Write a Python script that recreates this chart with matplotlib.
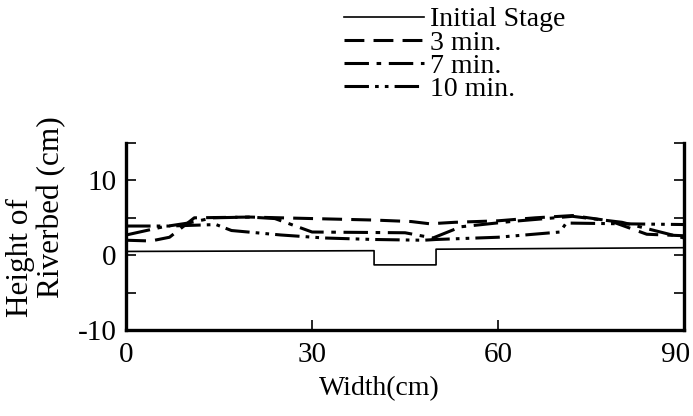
import numpy as np
import matplotlib.pyplot as plt
import matplotlib.transforms as mtransforms
from matplotlib.ticker import MultipleLocator

plt.rcParams['font.family'] = ['Liberation Serif', 'DejaVu Serif']
plt.rcParams['axes.unicode_minus'] = False

# bed profiles across the channel width (cm)
initial_x = [0, 40, 40, 50, 50, 90]
initial_h = [0.5, 0.6, -1.3, -1.3, 0.8, 1.0]

min3_x = [0, 4, 7, 11, 20, 30, 40, 46, 49, 53, 60, 66, 72, 78, 84, 90]
min3_h = [2.0, 1.9, 2.4, 5.0, 5.1, 4.9, 4.7, 4.5, 4.2, 4.4, 4.6, 5.0, 5.3, 4.6, 2.8, 2.6]

min7_x = [0, 6, 10, 14, 20, 24, 30, 45, 49.5, 54, 62, 72, 80, 90]
min7_h = [2.7, 3.8, 4.3, 5.0, 5.1, 4.9, 3.1, 3.0, 2.3, 3.8, 4.5, 5.2, 4.4, 2.3]

min10_x = [0, 7, 14.5, 17, 25, 32, 40, 48, 50, 60, 70, 71, 80, 90]
min10_h = [3.9, 3.9, 4.1, 3.3, 2.7, 2.3, 2.1, 2.0, 2.1, 2.4, 3.1, 4.3, 4.2, 4.1]

labels = ['Initial Stage', '3 min.', '7 min.', '10 min.']

fig = plt.figure(figsize=(6.93, 4.16), dpi=100)
ax = fig.add_axes([0.182, 0.207, 0.805, 0.449])

l0, = ax.plot(initial_x, initial_h, color='black', lw=1.2)
l3, = ax.plot(min3_x, min3_h, color='black', lw=2.2, linestyle=(0, (6.5, 3)))
l7, = ax.plot(min7_x, min7_h, color='black', lw=2.2, linestyle=(0, (8, 2.5, 1.5, 2.5)))
l10, = ax.plot(min10_x, min10_h, color='black', lw=2.2,
               linestyle=(0, (8, 2, 1.2, 2, 1.2, 2)))

ax.set_xlim(0, 90)
ax.set_ylim(-10, 15)
ax.set_xticks([0, 30, 60, 90])
ax.set_yticks([-10, 0, 10])
ax.yaxis.set_minor_locator(MultipleLocator(5))
ax.tick_params(axis='both', which='both', direction='in', labelsize=21,
               width=1.2, right=True, length=7)
ax.tick_params(axis='x', pad=9)
ax.tick_params(axis='y', pad=7)

# pull the last x label inside the figure edge
last = ax.get_xticklabels()[-1]
last.set_transform(last.get_transform() +
                   mtransforms.ScaledTranslation(-6 / 72, 0, fig.dpi_scale_trans))

for side in ['left', 'right', 'bottom']:
    ax.spines[side].set_linewidth(2.4)
ax.spines['top'].set_visible(False)

fig.text(0.548, 0.067, 'Width(cm)', fontsize=20, ha='center', va='center')
fig.text(0.029, 0.38, 'Height of', fontsize=22.5, rotation=90,
         ha='center', va='center')
fig.text(0.075, 0.502, 'Riverbed (cm)', fontsize=22.5, rotation=90,
         ha='center', va='center')

fig.legend([l0, l3, l7, l10], labels,
           loc='upper left', bbox_to_anchor=(0.468, 1.03), frameon=False,
           fontsize=20, handlelength=2.9, handletextpad=0.2,
           labelspacing=-0.08, borderpad=0.2)

fig.savefig('out.png', dpi=100)
